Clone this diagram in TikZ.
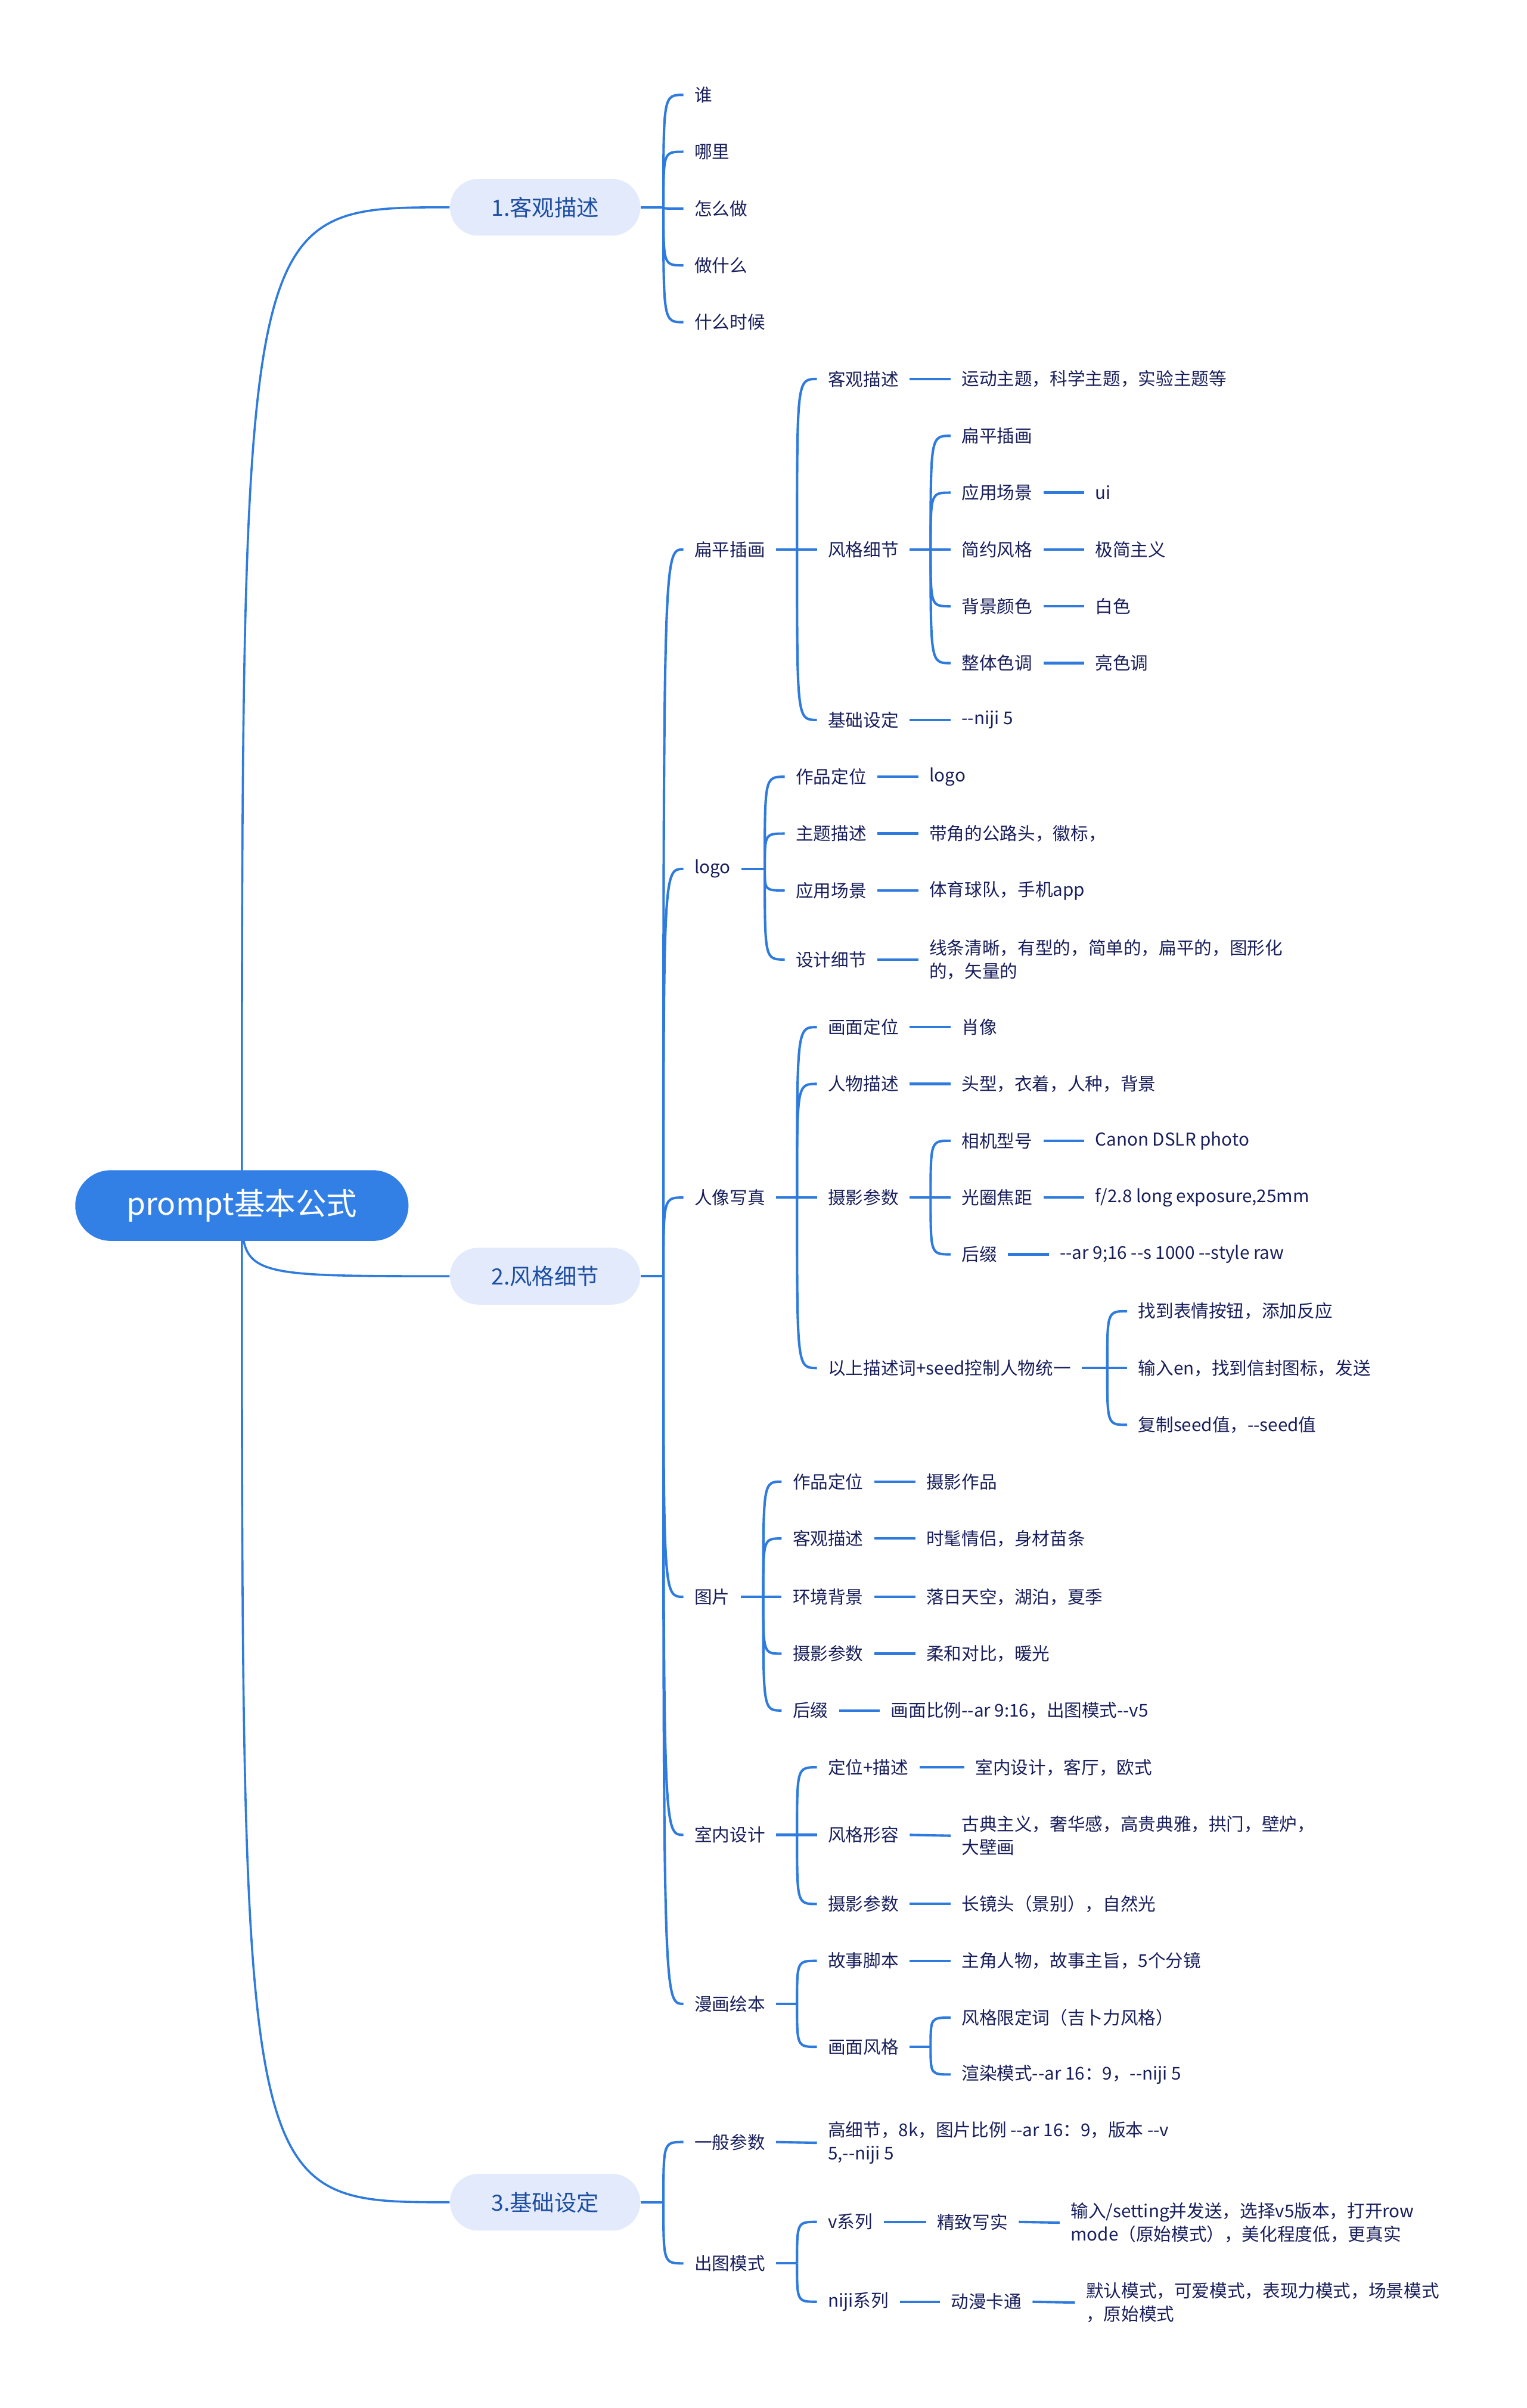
\documentclass[tikz,border=0pt]{standalone}
\usepackage{fontspec}
\setmainfont{Noto Sans CJK SC}[Ligatures=TeXOff]
\usetikzlibrary{backgrounds}

\definecolor{linkblue}{RGB}{47,123,221}
\definecolor{rootblue}{RGB}{50,128,230}
\definecolor{topicfill}{RGB}{226,234,252}
\definecolor{topictext}{RGB}{30,78,160}
\definecolor{leaftext}{RGB}{24,30,90}

\tikzset{
  link/.style={draw=linkblue, line width=1.6pt},
  mainlink/.style={draw=linkblue, line width=1.4pt},
  rootnode/.style={fill=rootblue, text=white, rounded corners=23pt,
    minimum width=217pt, minimum height=46pt, font=\fontsize{20}{24}\selectfont},
  topic/.style={fill=topicfill, text=topictext, rounded corners=18.5pt,
    minimum width=124pt, minimum height=37pt, font=\fontsize{14.5}{17}\selectfont},
  leaf/.style={anchor=west, text=leaftext, inner xsep=7pt, inner ysep=2pt,
    yshift=-0.8pt, align=left, font=\fontsize{11.5}{15}\selectfont},
}

% parent, x of the spine, children
\newcommand{\fork}[3]{%
  \draw[link] (#1.east) -- (#2,0 |- #1.east);
  \foreach \kid in {#3}
    \draw[link] (#2,0 |- #1.east) .. controls (#2,0 |- \kid.west) .. (\kid.west);
}

\begin{document}
\begin{tikzpicture}[x=1pt,y=-1pt]
  \useasboundingbox (0,0) rectangle (994,1568);

  % root and main topics
  \node[rootnode] (root) at (157.5,785) {prompt基本公式};
  \node[topic] (t1) at (355,135) {1.客观描述};
  \node[topic] (t2) at (355,831) {2.风格细节};
  \node[topic] (t3) at (355,1434) {3.基础设定};

  % 1.客观描述
  \foreach \t [count=\i] in {谁,哪里,怎么做,做什么,什么时候}
    \node[leaf] (w\i) at (445,24+37*\i) {\t};

  % 2.风格细节
  \node[leaf] (s1) at (445,357) {扁平插画};
  \node[leaf] (s2) at (445,565) {logo};
  \node[leaf] (s3) at (445,779) {人像写真};
  \node[leaf] (s4) at (445,1039) {图片};
  \node[leaf] (s5) at (445,1194) {室内设计};
  \node[leaf] (s6) at (445,1304) {漫画绘本};

  % 扁平插画
  \node[leaf] (f1) at (532,246) {客观描述};
  \node[leaf] (f2) at (532,357) {风格细节};
  \node[leaf] (f3) at (532,468) {基础设定};
  \node[leaf] (f1v) at (619,246) {运动主题，科学主题，实验主题等};
  \foreach \t [count=\i] in {扁平插画,应用场景,简约风格,背景颜色,整体色调}
    \node[leaf] (f2\i) at (619,246+37*\i) {\t};
  \node[leaf] (f22v) at (706,320) {ui};
  \node[leaf] (f23v) at (706,357) {极简主义};
  \node[leaf] (f24v) at (706,394) {白色};
  \node[leaf] (f25v) at (706,431) {亮色调};
  \node[leaf] (f3v) at (619,468) {--niji 5};

  % logo
  \node[leaf] (g1) at (511,505) {作品定位};
  \node[leaf] (g2) at (511,542) {主题描述};
  \node[leaf] (g3) at (511,579) {应用场景};
  \node[leaf] (g4) at (511,624) {设计细节};
  \node[leaf] (g1v) at (598,505) {logo};
  \node[leaf] (g2v) at (598,542) {带角的公路头，徽标，};
  \node[leaf] (g3v) at (598,579) {体育球队，手机app};
  \node[leaf] (g4v) at (598,624) {线条清晰，有型的，简单的，扁平的，图形化\\的，矢量的};

  % 人像写真
  \node[leaf] (p1) at (532,668) {画面定位};
  \node[leaf] (p2) at (532,705) {人物描述};
  \node[leaf] (p3) at (532,779) {摄影参数};
  \node[leaf] (p4) at (532,890) {以上描述词+seed控制人物统一};
  \node[leaf] (p1v) at (619,668) {肖像};
  \node[leaf] (p2v) at (619,705) {头型，衣着，人种，背景};
  \node[leaf] (p31) at (619,742) {相机型号};
  \node[leaf] (p32) at (619,779) {光圈焦距};
  \node[leaf] (p33) at (619,816) {后缀};
  \node[leaf] (p31v) at (706,742) {Canon DSLR photo};
  \node[leaf] (p32v) at (706,779) {f/2.8 long exposure,25mm};
  \node[leaf] (p33v) at (683,816) {--ar 9;16 --s 1000 --style raw};
  \node[leaf] (p41) at (734,853) {找到表情按钮，添加反应};
  \node[leaf] (p42) at (734,890) {输入en，找到信封图标，发送};
  \node[leaf] (p43) at (734,927) {复制seed值，--seed值};

  % 图片
  \node[leaf] (i1) at (509,964) {作品定位};
  \node[leaf] (i2) at (509,1001) {客观描述};
  \node[leaf] (i3) at (509,1039) {环境背景};
  \node[leaf] (i4) at (509,1076) {摄影参数};
  \node[leaf] (i5) at (509,1113) {后缀};
  \node[leaf] (i1v) at (596,964) {摄影作品};
  \node[leaf] (i2v) at (596,1001) {时髦情侣，身材苗条};
  \node[leaf] (i3v) at (596,1039) {落日天空，湖泊，夏季};
  \node[leaf] (i4v) at (596,1076) {柔和对比，暖光};
  \node[leaf] (i5v) at (573,1113) {画面比例--ar 9:16，出图模式--v5};

  % 室内设计
  \node[leaf] (r1) at (532,1150) {定位+描述};
  \node[leaf] (r2) at (532,1194) {风格形容};
  \node[leaf] (r3) at (532,1239) {摄影参数};
  \node[leaf] (r1v) at (628,1150) {室内设计，客厅，欧式};
  \node[leaf] (r2v) at (619,1194.5) {古典主义，奢华感，高贵典雅，拱门，壁炉，\\大壁画};
  \node[leaf] (r3v) at (619,1239) {长镜头（景别），自然光};

  % 漫画绘本
  \node[leaf] (m1) at (532,1276) {故事脚本};
  \node[leaf] (m2) at (532,1332) {画面风格};
  \node[leaf] (m1v) at (619,1276) {主角人物，故事主旨，5个分镜};
  \node[leaf] (m21) at (619,1313) {风格限定词（吉卜力风格）};
  \node[leaf] (m22) at (619,1350) {渲染模式--ar 16：9，--niji 5};

  % 3.基础设定
  \node[leaf] (b1) at (445,1394) {一般参数};
  \node[leaf] (b2) at (445,1473) {出图模式};
  \node[leaf] (b1v) at (532,1394.5) {高细节，8k，图片比例 --ar 16：9，版本 --v\\5,--niji 5};
  \node[leaf] (b21) at (532,1446) {v系列};
  \node[leaf] (b22) at (532,1498) {niji系列};
  \node[leaf] (b21a) at (603,1446) {精致写实};
  \node[leaf] (b21b) at (690,1446.5) {输入/setting并发送，选择v5版本，打开row\\mode（原始模式），美化程度低，更真实};
  \node[leaf] (b22a) at (612,1498) {动漫卡通};
  \node[leaf] (b22b) at (700,1498.5) {默认模式，可爱模式，表现力模式，场景模式\\，原始模式};

  \begin{scope}[on background layer]
    \foreach \n in {t1,t2,t3}
      \draw[mainlink] (root.center) .. controls (root.center |- \n.west) .. (\n.west);
    \fork{t1}{432}{w1,w2,w3,w4,w5}
    \fork{t2}{432}{s1,s2,s3,s4,s5,s6}
    \fork{t3}{432}{b1,b2}
    \fork{s1}{519}{f1,f2,f3}
    \fork{f2}{606}{f21,f22,f23,f24,f25}
    \fork{s2}{498}{g1,g2,g3,g4}
    \fork{s3}{519}{p1,p2,p3,p4}
    \fork{p3}{606}{p31,p32,p33}
    \fork{p4}{721}{p41,p42,p43}
    \fork{s4}{497}{i1,i2,i3,i4,i5}
    \fork{s5}{519}{r1,r2,r3}
    \fork{s6}{519}{m1,m2}
    \fork{m2}{606}{m21,m22}
    \fork{b2}{519}{b21,b22}
    \foreach \a/\b in {f1/f1v,f3/f3v,f22/f22v,f23/f23v,f24/f24v,f25/f25v,
        g1/g1v,g2/g2v,g3/g3v,g4/g4v,p1/p1v,p2/p2v,p31/p31v,p32/p32v,p33/p33v,
        i1/i1v,i2/i2v,i3/i3v,i4/i4v,i5/i5v,r1/r1v,r2/r2v,r3/r3v,m1/m1v,
        b1/b1v,b21/b21a,b21a/b21b,b22/b22a,b22a/b22b}
      \draw[link] (\a.east) -- (\b.west);
  \end{scope}
\end{tikzpicture}
\end{document}
